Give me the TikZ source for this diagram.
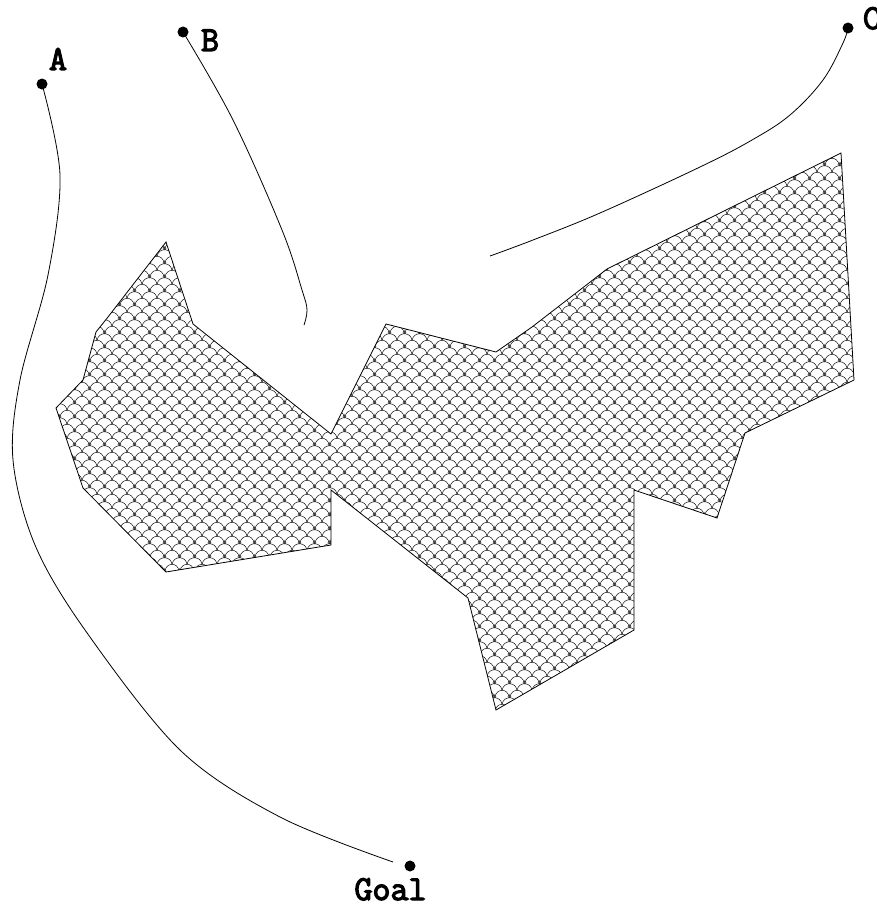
\documentclass[tikz,border=0pt]{standalone}
\usepackage{fontspec}
\newfontfamily\lblfont{Latin Modern Mono}[FakeBold=3.5]
\usetikzlibrary{patterns}
\newcommand\fishArc[2]{%
  \pgfpathmoveto{\pgfpoint{#1pt}{#2pt}}%
  \pgfpathcurveto{\pgfpoint{#1pt+1.5pt}{#2pt+9.5pt}}{\pgfpoint{#1pt+13.5pt}{#2pt+9.5pt}}{\pgfpoint{#1pt+15pt}{#2pt}}}
\pgfdeclarepatternformonly{fishscales}{\pgfqpoint{0pt}{0pt}}{\pgfqpoint{15pt}{14pt}}{\pgfqpoint{15pt}{14pt}}{%
  \pgfsetlinewidth{0.5pt}%
  \fishArc{-15}{0}\fishArc{0}{0}\fishArc{15}{0}%
  \fishArc{-7.5}{7}\fishArc{7.5}{7}%
  \fishArc{-7.5}{-7}\fishArc{7.5}{-7}%
  \fishArc{-15}{14}\fishArc{0}{14}\fishArc{15}{14}%
  \pgfusepath{stroke}}
\tikzset{
  pointdot/.style={circle,fill=black,inner sep=0pt,minimum size=11pt},
  lbl/.style={font=\lblfont\fontsize{35}{35}\selectfont,inner sep=0pt,anchor=base},
  route/.style={line width=0.8pt},
  obstacle/.style={line width=0.8pt,pattern=fishscales,pattern color=black}
}
\begin{document}
\begin{tikzpicture}[x=1pt,y=-1pt]
\useasboundingbox (0,0) rectangle (877,907);
% obstacle
\draw[obstacle] (166,242) -- (193,324) -- (331,434) -- (386,324) -- (496,352) -- (532,327)
  -- (607,269) -- (841,153) -- (854,380) -- (745,433) -- (717,518) -- (634,490)
  -- (634,630) -- (496,710) -- (468,598) -- (331,490) -- (331,545) -- (166,572)
  -- (83,488) -- (56,408) -- (83,380) -- (96,332) -- (108,317) -- cycle;
% points
\node[pointdot] (A) at (42,84) {};
\node[pointdot] (B) at (183,32) {};
\node[pointdot] (C) at (848,28) {};
\node[pointdot] (G) at (410,866) {};
\node[lbl] (Alab) at (58,70) {A};
\node[lbl] (Blab) at (210,51) {B};
\node[lbl] (Clab) at (872,29) {C};
\node[lbl] (Glab) at (390.5,900) {Goal};
\coordinate (Aend) at (393,862);
\coordinate (Bend) at (304,325);
\coordinate (Cend) at (490,256);
% paths
\draw[route] plot[smooth,tension=0.55] coordinates {(A.center) (60,175) (48,275) (20,380) (13,460) (35,545) (85,630) (180,750) (280,817) (Aend)};
\draw[route] plot[smooth,tension=0.6] coordinates {(B.center) (233,120) (282,230) (302,290) (307,310) (Bend)};
\draw[route] plot[smooth,tension=0.6] coordinates {(C.center) (843,43) (823,80) (790,115) (752,140) (700,167) (600,213) (533,240) (Cend)};
\end{tikzpicture}
\end{document}
